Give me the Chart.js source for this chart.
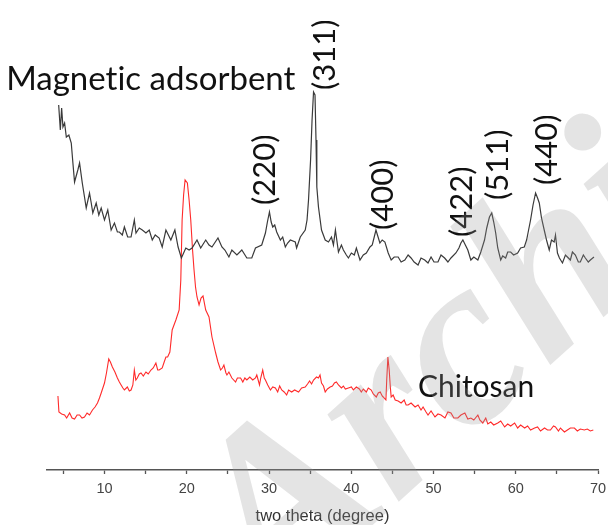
<!DOCTYPE html>
<html>
<head>
<meta charset="utf-8">
<script src="https://cdn.jsdelivr.net/npm/chart.js@4.4.1/dist/chart.umd.min.js"></script>
<style>
  html, body { margin: 0; padding: 0; background: #fff; }
  #wrap { width: 608px; height: 525px; }
</style>
</head>
<body>
<div id="wrap"><canvas id="xrd" width="608" height="525"></canvas></div>
<script>
// XRD patterns: 2-theta (degree) and intensity (a.u., stacked offsets included)
const magTheta = [4.42,4.62,4.78,4.94,5.14,5.35,5.66,5.95,6.15,6.35,6.75,6.96,7.29,7.56,7.77,8.17,8.38,8.57,8.98,9.30,9.59,9.99,10.39,10.80,11.20,11.56,11.80,12.16,12.41,12.81,13.22,13.62,13.82,14.22,14.59,15.03,15.43,15.80,16.16,16.64,17.01,17.46,18.06,18.55,18.94,19.34,19.88,20.28,20.64,21.24,21.69,22.30,22.70,23.06,23.79,24.27,24.63,25.12,25.48,26.09,26.69,27.30,27.90,28.35,29.11,29.56,29.80,30.05,30.26,30.45,30.69,30.93,31.38,31.66,31.98,32.26,32.59,33.19,33.35,33.80,34.40,34.62,34.80,35.05,35.23,35.41,35.59,35.71,35.81,36.01,36.38,36.83,37.23,37.59,37.83,38.07,38.44,38.80,39.04,39.40,39.65,40.01,40.37,40.62,41.06,41.46,41.83,42.27,42.55,42.79,43.00,43.22,43.48,43.76,44.09,44.49,44.85,45.22,45.70,46.06,46.51,46.91,47.27,47.64,48.12,48.48,48.93,49.33,49.70,50.06,50.54,50.91,51.35,51.75,52.12,52.72,53.09,53.33,53.57,53.87,54.17,54.54,54.90,55.39,55.75,56.20,56.47,56.80,57.08,57.32,57.56,57.81,58.17,58.41,58.77,59.02,59.38,59.74,60.23,60.59,61.04,61.32,61.56,61.80,62.10,62.41,62.65,62.86,63.13,63.46,63.74,64.07,64.34,64.67,64.83,65.07,65.31,65.68,66.04,66.28,66.64,66.89,67.25,67.61,67.85,68.22,68.46,68.82,69.07,69.51];
const magIntensity = [365,340,362,343,347,333,335,327,307,288,300,307,287,273,262,277,267,257,267,255,262,250,260,240,247,238,238,235,243,233,233,250,237,242,240,237,240,230,235,232,223,240,230,240,223,212,222,220,222,230,222,230,225,223,232,223,220,213,220,215,220,212,212,222,225,237,248,258,248,243,245,238,230,233,223,227,230,228,222,233,240,250,270,310,350,378,375,330,283,263,240,230,228,233,225,240,218,225,220,215,212,217,215,222,210,215,217,223,225,233,240,234,227,230,228,217,210,213,213,208,210,215,212,208,205,212,210,207,213,208,208,215,212,208,212,217,222,227,230,225,220,210,213,210,218,230,242,253,257,248,237,222,210,214,212,218,218,215,217,222,223,230,240,250,265,277,272,267,252,240,230,220,230,228,235,217,212,207,215,213,210,218,215,208,208,215,212,208,210,213];

const chitTheta = [4.33,4.45,4.78,5.14,5.39,5.75,6.05,6.35,6.66,6.96,7.26,7.56,7.87,8.17,8.53,8.84,9.14,9.38,9.59,9.99,10.23,10.51,10.71,10.95,11.26,11.56,11.80,12.01,12.23,12.41,12.77,13.01,13.22,13.44,13.62,13.80,13.98,14.22,14.43,14.71,15.03,15.31,15.64,15.92,16.24,16.46,16.64,17.01,17.25,17.46,17.67,17.94,18.22,18.67,19.07,19.27,19.43,19.61,19.79,20.07,20.28,20.48,20.70,20.88,21.06,21.24,21.49,21.73,21.97,22.30,22.70,23.06,23.51,23.79,24.11,24.33,24.51,24.76,24.88,25.12,25.48,25.93,26.15,26.54,26.81,27.06,27.30,27.66,28.02,28.35,28.51,28.84,28.99,29.23,29.42,29.56,29.84,30.17,30.45,30.77,31.05,31.29,31.54,31.84,32.14,32.38,32.75,33.11,33.59,33.96,34.40,34.68,34.93,35.17,35.41,35.77,36.01,36.20,36.38,36.62,36.83,37.10,37.43,37.71,37.95,38.19,38.44,38.80,39.04,39.28,39.65,40.01,40.25,40.62,40.98,41.22,41.46,41.83,42.07,42.43,42.67,43.04,43.28,43.52,43.76,43.88,44.21,44.31,44.45,44.61,44.73,44.85,45.09,45.34,45.70,46.06,46.43,46.67,46.91,47.27,47.76,48.12,48.48,48.73,49.09,49.33,49.70,50.18,50.54,50.91,51.39,51.75,52.12,52.48,52.96,53.33,53.81,54.17,54.54,54.90,55.39,55.63,55.99,56.35,56.60,56.96,57.32,57.81,58.17,58.65,59.02,59.38,59.86,60.23,60.59,61.08,61.44,61.80,62.29,62.65,63.01,63.50,63.86,64.22,64.59,64.83,65.19,65.43,65.92,66.28,66.64,67.13,67.49,67.85,68.34,68.70,69.07,69.43];
const chitIntensity = [74,58,56,55,52,57,52,51,55,55,52,53,57,55,60,63,67,72,77,87,97,111,108,103,98,92,88,85,82,80,83,79,80,85,100,90,92,96,97,94,98,96,100,102,107,100,100,102,108,113,113,118,140,150,160,190,250,275,290,287,270,250,220,200,183,173,165,172,174,160,153,133,117,108,100,102,105,97,95,98,92,88,92,92,88,92,90,93,90,92,95,85,92,100,92,90,85,80,83,82,78,84,80,78,75,80,78,80,78,82,83,86,89,86,90,93,92,95,87,84,78,81,83,84,87,88,85,82,84,81,82,83,80,83,81,78,81,78,82,80,76,73,77,78,74,73,70,90,113,100,85,73,75,70,69,67,70,65,65,67,63,65,60,63,58,55,59,53,56,55,52,58,57,52,52,55,57,51,52,50,55,50,47,52,46,48,45,47,49,43,46,44,47,42,45,42,44,40,42,43,39,42,40,40,44,43,39,42,38,40,42,42,39,41,40,41,39,40];

// Axis ticks (major every 10 degrees, minor in between)
const tickValues = [5,10,15,20,25,30,35,40,45,50,55,60,65,70];
const tickLabels = ['', '10', '', '20', '', '30', '', '40', '', '50', '', '60', '', '70'];

// Miller indices of the magnetite reflections, placed above their peaks
const hklLabels = ['(220)', '(311)', '(400)', '(422)', '(511)', '(440)'];
const hklTheta = [29.5, 36.8, 43.8, 53.5, 57.9, 63.8];
const hklIntensity = [265, 380, 240, 233, 270, 285];

// Series names
const seriesNames = ['Magnetic adsorbent', 'Chitosan'];
const seriesLabelTheta = [33.2, 48.1];
const seriesLabelIntensity = [380, 73];

const toPoints = (xs, ys) => xs.map((x, i) => ({ x: x, y: ys[i] }));

const annotations = {
  id: 'xrdAnnotations',
  afterDatasetsDraw(chart) {
    const { ctx, scales: { x, y } } = chart;
    ctx.save();
    ctx.fillStyle = '#111';
    ctx.textBaseline = 'alphabetic';
    ctx.textRendering = 'optimizeSpeed';

    // series names
    ctx.font = '33px Lato';
    ctx.textAlign = 'right';
    ctx.fillText(seriesNames[0], x.getPixelForValue(seriesLabelTheta[0]), y.getPixelForValue(seriesLabelIntensity[0]));
    ctx.font = '30px Lato';
    ctx.textAlign = 'left';
    ctx.fillText(seriesNames[1], x.getPixelForValue(seriesLabelTheta[1]), y.getPixelForValue(seriesLabelIntensity[1]));

    // rotated hkl labels
    ctx.font = '31px Lato';
    ctx.textAlign = 'left';
    ctx.textBaseline = 'middle';
    hklLabels.forEach((txt, i) => {
      ctx.save();
      ctx.translate(x.getPixelForValue(hklTheta[i]), y.getPixelForValue(hklIntensity[i]));
      ctx.rotate(-Math.PI / 2);
      ctx.fillText(txt, 0, 0);
      ctx.restore();
    });
    ctx.restore();
  },
  afterDraw(chart) {
    // faint "Archive" stamp across the plot
    const { ctx, width, height } = chart;
    ctx.save();
    ctx.translate(width * 0.45, height * 1.17);
    ctx.rotate(-42 * Math.PI / 180);
    ctx.font = 'italic bold 245px "Liberation Serif"';
    ctx.fillStyle = 'rgba(150,150,150,0.26)';
    ctx.textAlign = 'left';
    ctx.textBaseline = 'alphabetic';
    ctx.fillText('Archive', 0, 0);
    ctx.restore();
  }
};

new Chart(document.getElementById('xrd'), {
  type: 'scatter',
  data: {
    datasets: [
      {
        label: seriesNames[0],
        data: toPoints(magTheta, magIntensity),
        showLine: true,
        borderColor: '#3a3a3a',
        borderWidth: 1.2,
        pointRadius: 0,
        tension: 0
      },
      {
        label: seriesNames[1],
        data: toPoints(chitTheta, chitIntensity),
        showLine: true,
        borderColor: '#ff2a2a',
        borderWidth: 1.1,
        pointRadius: 0,
        tension: 0
      }
    ]
  },
  options: {
    responsive: false,
    devicePixelRatio: 1,
    animation: false,
    layout: { padding: { left: 47, right: 10, top: 0, bottom: 0 } },
    plugins: { legend: { display: false }, tooltip: { enabled: false } },
    scales: {
      x: {
        type: 'linear',
        min: 3,
        max: 70,
        afterBuildTicks: (scale) => { scale.ticks = tickValues.map(v => ({ value: v })); },
        afterFit: (scale) => {
          scale.height = 55;
          scale.paddingLeft = 0;
          scale.paddingRight = 0;
        },
        ticks: {
          autoSkip: false,
          maxRotation: 0,
          padding: 6,
          color: '#444',
          font: { family: '"Liberation Sans", Arial, sans-serif', size: 14.5 },
          callback: (v) => tickLabels[tickValues.indexOf(v)] ?? ''
        },
        grid: { drawOnChartArea: false, drawTicks: true, tickLength: 4, tickColor: '#555', tickWidth: 1.3 },
        border: { display: true, color: '#555', width: 1.6 },
        title: {
          display: true,
          text: 'two theta (degree)',
          color: '#333',
          padding: 0,
          font: { family: '"Liberation Sans", Arial, sans-serif', size: 16.5, lineHeight: 1 }
        }
      },
      y: { display: false, min: 0, max: 470 }
    }
  },
  plugins: [annotations]
});
</script>
</body>
</html>
